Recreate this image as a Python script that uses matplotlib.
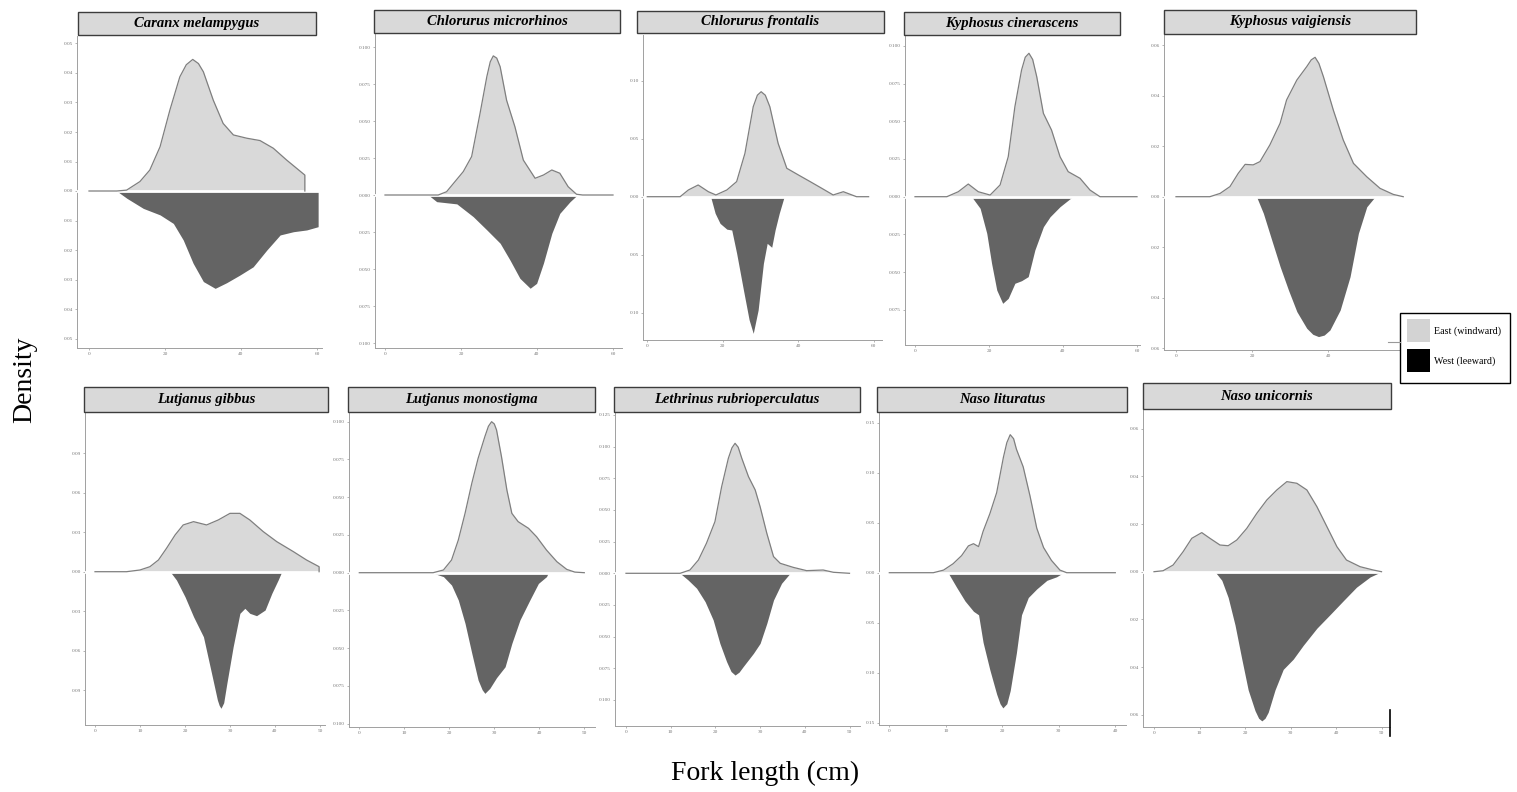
import matplotlib.pyplot as plt
import numpy as np
from matplotlib.patches import Rectangle
from matplotlib.lines import Line2D
from matplotlib.ticker import FixedLocator

W, H = 1517, 792
plt.rcParams['font.family'] = ['Liberation Serif', 'DejaVu Serif']

species = ["Caranx melampygus", "Chlorurus microrhinos", "Chlorurus frontalis",
           "Kyphosus cinerascens", "Kyphosus vaigiensis", "Lutjanus gibbus",
           "Lutjanus monostigma", "Lethrinus rubrioperculatus", "Naso lituratus",
           "Naso unicornis"]

# density curves: (fork length, density)
caranx_east = [(0, 0), (7.3, 0), (9.9, 0.0003), (13.4, 0.0032), (16, 0.0071), (18.7, 0.015),
               (21.3, 0.0275), (23.9, 0.0387), (25.6, 0.0428), (27.3, 0.0446), (28.8, 0.0432),
               (30.1, 0.0404), (32.7, 0.0308), (35.3, 0.0229), (38, 0.019), (41.5, 0.0179),
               (45, 0.0171), (48.5, 0.0145), (52, 0.0105), (56.8, 0.0054), (56.8, 0)]
caranx_west = [(7.3, 0), (10, 0.0025), (14.3, 0.0059), (18.7, 0.0081), (22.2, 0.011),
               (24.8, 0.0166), (27.4, 0.0245), (30.1, 0.0307), (33.2, 0.033), (36.2, 0.0311),
               (39.7, 0.0285), (43.2, 0.0257), (46.8, 0.02), (50.3, 0.0149), (53.8, 0.0138),
               (57.3, 0.0132), (60.3, 0.0121), (60.3, 0)]

microrhinos_east = [(0, 0), (14, 0), (16.2, 0.0022), (18.4, 0.009), (20.6, 0.0158), (22.8, 0.026),
                    (25, 0.055), (26.8, 0.08), (27.7, 0.09), (28.5, 0.094), (29.4, 0.0925),
                    (30.3, 0.0867), (32, 0.064), (34.2, 0.046), (36.4, 0.0236), (39.5, 0.0113),
                    (41.7, 0.0135), (43.9, 0.0169), (46, 0.0147), (48.2, 0.0056), (50.4, 0.0005),
                    (52, 0), (60, 0)]
microrhinos_west = [(11.4, 0), (13.6, 0.0045), (18.9, 0.006), (23.2, 0.0146), (26.8, 0.0236),
                    (30.3, 0.0326), (32.9, 0.044), (35.5, 0.0563), (38.2, 0.063), (39.9, 0.0597),
                    (41.7, 0.046), (43.9, 0.0259), (46, 0.0124), (48.7, 0.0045), (50.6, 0)]

frontalis_east = [(0, 0), (8.7, 0), (10.9, 0.0058), (13.5, 0.0101), (16.2, 0.0043), (18.2, 0.0015),
                  (21.1, 0.0058), (23.7, 0.013), (25.9, 0.0374), (28.1, 0.0776), (29.2, 0.0875),
                  (30.2, 0.0905), (31.3, 0.0875), (32.5, 0.0776), (34.7, 0.046), (37, 0.0245),
                  (40.1, 0.0187), (43.2, 0.013), (46.3, 0.0072), (49.3, 0.0015), (52, 0.0043),
                  (55.5, 0), (58.7, 0)]
frontalis_west = [(16.8, 0), (18, 0.0143), (19.3, 0.023), (21.1, 0.028), (22.4, 0.0287),
                  (23.7, 0.0488), (25.5, 0.0804), (27, 0.106), (28.1, 0.1178), (29.4, 0.0977),
                  (30.8, 0.0574), (31.8, 0.0402), (33, 0.0436), (33.9, 0.0287), (35, 0.0143),
                  (36.3, 0)]

cinerascens_east = [(0, 0), (8.6, 0), (11.7, 0.0033), (14.4, 0.0084), (17.1, 0.0033), (20.3, 0.0011),
                    (23, 0.0078), (25.2, 0.0265), (27, 0.0597), (28.8, 0.084), (29.8, 0.0925),
                    (30.8, 0.0951), (31.8, 0.091), (32.9, 0.0796), (34.7, 0.0553), (36.9, 0.0442),
                    (39.2, 0.0265), (41.4, 0.0166), (44.6, 0.0122), (47.3, 0.0044), (50, 0), (60, 0)]
cinerascens_west = [(15.3, 0), (17.6, 0.0077), (19.4, 0.0243), (20.7, 0.0442), (22.1, 0.0619),
                    (23.7, 0.0707), (25.2, 0.0674), (27, 0.0574), (28.8, 0.0557), (30.6, 0.053),
                    (32.4, 0.0353), (34.7, 0.0199), (36.5, 0.0133), (39.2, 0.0066), (42.6, 0)]

vaigiensis_east = [(0, 0), (8.9, 0), (11.6, 0.0013), (14.2, 0.004), (16.4, 0.0093), (18.2, 0.0128),
                   (20.3, 0.0126), (22.1, 0.0139), (24.7, 0.0205), (27.4, 0.0291), (29.1, 0.0383),
                   (31.8, 0.0462), (34.4, 0.0515), (35.6, 0.0542), (36.6, 0.0552), (37.6, 0.0528),
                   (38.8, 0.0475), (41.4, 0.0343), (44, 0.0225), (46.7, 0.0132), (50.2, 0.0079),
                   (53.7, 0.0033), (57.2, 0.0009), (59.8, 0)]
vaigiensis_west = [(21.2, 0), (23, 0.0066), (25.2, 0.0172), (27.4, 0.0277), (29.6, 0.037),
                   (31.8, 0.0455), (34.4, 0.0521), (36, 0.0545), (37.5, 0.0554), (39, 0.0548),
                   (40.5, 0.0528), (43.2, 0.0449), (45.8, 0.0317), (48, 0.0145), (50.2, 0.004),
                   (52.4, 0)]

gibbus_east = [(0, 0), (7, 0), (10, 0.0013), (12.2, 0.0038), (14.1, 0.0089), (15.9, 0.0178),
               (17.8, 0.0279), (19.6, 0.0355), (21.9, 0.038), (24.8, 0.0355), (27.4, 0.0393),
               (30, 0.0443), (32.2, 0.0443), (34.4, 0.0393), (37.4, 0.0304), (40.4, 0.0228),
               (44.1, 0.0152), (47, 0.0089), (49.8, 0.0038), (49.8, 0)]
gibbus_west = [(16.7, 0), (18.1, 0.0063), (20, 0.019), (21.9, 0.0342), (24.1, 0.0494),
               (25.9, 0.0772), (27.2, 0.0974), (27.6, 0.1015), (28, 0.1037), (28.6, 0.0995),
               (29.3, 0.0848), (30.7, 0.057), (32.2, 0.0316), (33.3, 0.0278), (34.4, 0.0316),
               (35.9, 0.0334), (37.8, 0.0291), (39.3, 0.0164), (40.7, 0.0063), (41.5, 0)]

monostigma_east = [(0, 0), (16.4, 0), (18.7, 0.0018), (20.5, 0.0084), (22, 0.0216), (23.5, 0.0393),
                   (25, 0.0592), (26.4, 0.0757), (27.9, 0.0901), (28.7, 0.097), (29.4, 0.1),
                   (30, 0.0985), (30.5, 0.0945), (31.6, 0.0768), (32.8, 0.0547), (33.9, 0.0393),
                   (35.3, 0.0338), (37.6, 0.0294), (39.4, 0.0238), (41.6, 0.015), (43.9, 0.0073),
                   (46.1, 0.0022), (47.9, 0.0004), (50, 0)]
monostigma_west = [(16.1, 0), (18.7, 0.0026), (20.5, 0.0082), (22, 0.0181), (23.5, 0.0336),
                   (25, 0.0534), (26.4, 0.0711), (27.3, 0.0775), (27.9, 0.0799), (29, 0.0766),
                   (30.5, 0.0695), (32.4, 0.0623), (33.9, 0.0468), (35.7, 0.0313), (37.9, 0.0181),
                   (39.8, 0.0071), (41.6, 0.0026), (42, 0)]

rubrio_east = [(0, 0), (12.1, 0), (14.3, 0.0026), (16.2, 0.0105), (18, 0.0237), (19.9, 0.0408),
               (21.4, 0.0684), (22.9, 0.0908), (23.7, 0.099), (24.4, 0.1026), (25.1, 0.0995),
               (25.9, 0.0908), (27.4, 0.0763), (28.9, 0.0658), (30, 0.0526), (31.5, 0.0316),
               (33, 0.0132), (34.5, 0.0079), (37.4, 0.0047), (40.4, 0.0021), (44.1, 0.0026),
               (46.4, 0.0008), (50, 0)]
rubrio_west = [(12.1, 0), (13.9, 0.0053), (15.8, 0.0118), (17.7, 0.0224), (19.5, 0.0368),
               (21, 0.0553), (22.5, 0.0697), (23.5, 0.0775), (24.4, 0.0803), (25.3, 0.078),
               (26.2, 0.0737), (28.5, 0.0632), (30, 0.0553), (31.5, 0.0395), (33, 0.0211),
               (34.8, 0.0079), (36.7, 0)]

lituratus_east = [(0, 0), (7.8, 0), (9.6, 0.0026), (11.3, 0.009), (12.8, 0.0171), (14, 0.0268),
                  (14.9, 0.029), (15.8, 0.0261), (16.6, 0.0413), (17.8, 0.059), (19, 0.08),
                  (20.2, 0.1155), (20.8, 0.13), (21.4, 0.138), (22, 0.134), (22.5, 0.1235),
                  (23.7, 0.1058), (24.9, 0.0768), (26.1, 0.0445), (27.3, 0.0252), (28.7, 0.0123),
                  (30.2, 0.0026), (31.4, 0), (40, 0)]
lituratus_west = [(10.4, 0), (11.9, 0.0145), (13.4, 0.0283), (14.9, 0.0386), (15.8, 0.0421),
                  (16.6, 0.0697), (17.8, 0.0972), (19, 0.1214), (19.6, 0.131), (20.1, 0.1352),
                  (20.8, 0.131), (21.4, 0.1179), (22.5, 0.08), (23.4, 0.0421), (24.6, 0.0248),
                  (26.1, 0.0162), (27.9, 0.0076), (29.6, 0.0041), (30.8, 0)]

unicornis_east = [(0, 0), (2, 0.0004), (4.2, 0.0028), (6.4, 0.0084), (8.3, 0.014), (10.5, 0.0164),
                  (12.3, 0.014), (14.5, 0.0112), (16.3, 0.0109), (18.2, 0.0133), (20.4, 0.0182),
                  (22.6, 0.0245), (24.8, 0.0301), (27, 0.0343), (29.2, 0.0378), (31.4, 0.0371),
                  (33.6, 0.0343), (35.8, 0.0273), (38, 0.0189), (40.2, 0.0105), (42.3, 0.0049),
                  (45.3, 0.0021), (48.2, 0.0007), (50, 0)]
unicornis_west = [(13.4, 0), (14.9, 0.0036), (16.3, 0.0108), (17.8, 0.0223), (19.3, 0.0367),
                  (20.7, 0.0496), (22.2, 0.0583), (23, 0.0615), (23.7, 0.0626), (24.4, 0.0615),
                  (25.1, 0.059), (26.6, 0.0496), (28.4, 0.041), (30.6, 0.0367), (32.8, 0.0309),
                  (35.8, 0.0237), (38.7, 0.018), (41.6, 0.0122), (44.5, 0.0065), (47.5, 0.0022),
                  (50, 0)]

east_curves = [caranx_east, microrhinos_east, frontalis_east, cinerascens_east, vaigiensis_east,
               gibbus_east, monostigma_east, rubrio_east, lituratus_east, unicornis_east]
west_curves = [caranx_west, microrhinos_west, frontalis_west, cinerascens_west, vaigiensis_west,
               gibbus_west, monostigma_west, rubrio_west, lituratus_west, unicornis_west]

x_ticks = [[0, 20, 40, 60]] * 5 + [[0, 10, 20, 30, 40, 50]] * 3 + [[0, 10, 20, 30, 40], [0, 10, 20, 30, 40, 50]]
y_steps = [0.01, 0.025, 0.05, 0.025, 0.02, 0.03, 0.025, 0.025, 0.05, 0.02]
y_tops = [0.05, 0.1, 0.1, 0.1, 0.06, 0.09, 0.1, 0.125, 0.15, 0.06]
y_decimals = [2, 3, 2, 3, 2, 2, 3, 3, 2, 2]

# layout in pixels: axes box (left, right, top, bottom), x zero px, px per cm, y zero px, px per density unit
layout = [
    ((77, 322, 36, 348), 89, 3.8, 191, 2950, (78, 316, 12, 35)),
    ((375, 622, 34, 348), 385, 3.8, 195, 1480, (374, 620, 10, 33)),
    ((643, 882, 35, 340), 647.3, 3.77, 196.7, 1160, (637, 884, 11, 33)),
    ((905, 1140, 36, 345), 915, 3.7, 196.7, 1508, (904, 1120, 12, 35)),
    ((1164, 1408, 35, 350), 1176, 3.8, 196.7, 2525, (1164, 1416, 10, 34)),
    ((85, 325, 412, 725), 95, 4.5, 571.7, 1317, (84, 328, 387, 412)),
    ((349, 595, 412, 727), 359.3, 4.5, 572.7, 1510, (348, 595, 387, 412)),
    ((615, 860, 412, 726), 626, 4.47, 573.3, 1267, (614, 860, 387, 412)),
    ((879, 1126, 412, 725), 889.3, 5.65, 572.7, 1000, (877, 1127, 387, 412)),
    ((1143, 1390, 409, 727), 1154, 4.55, 571.7, 2383, (1143, 1391, 383, 409)),
]

fig = plt.figure(figsize=(W / 100, H / 100), dpi=100)

for i, name in enumerate(species):
    (l, r, t, b), x0, xs, y0, ys, strip = layout[i]
    ax = fig.add_axes([l / W, 1 - b / H, (r - l) / W, (b - t) / H])
    east = np.array(east_curves[i])
    west = np.array(west_curves[i])
    ax.fill_between(west[:, 0], -west[:, 1], 0, color='#646464', lw=0, zorder=1)
    ax.fill_between(east[:, 0], east[:, 1], 0, color='#d9d9d9', lw=0, zorder=2)
    ax.axhline(0, color='white', lw=2.0, zorder=3)
    ax.plot(east[:, 0], east[:, 1], color='#7f7f7f', lw=0.9, zorder=4,
            solid_joinstyle='round')

    ax.set_xlim((l - x0) / xs, (r - x0) / xs)
    ax.set_ylim((y0 - b) / ys, (y0 - t) / ys)
    step, top, dec = y_steps[i], y_tops[i], y_decimals[i]
    yt = np.round(np.arange(-top, top + step / 2, step), 4)
    ax.yaxis.set_major_locator(FixedLocator(yt))
    ax.set_yticklabels([f"{abs(v):.{dec}f}" for v in yt])
    ax.set_xticks(x_ticks[i])
    ax.tick_params(labelsize=3.8, labelcolor='#777777', color='#999999',
                   length=1.5, width=0.5, pad=1.5)
    for s in ['top', 'right']:
        ax.spines[s].set_visible(False)
    for s in ['left', 'bottom']:
        ax.spines[s].set_color('#a0a0a0')
        ax.spines[s].set_linewidth(0.7)
    ax.set_facecolor('white')

    sx0, sx1, sy0, sy1 = strip
    fig.add_artist(Rectangle((sx0 / W, 1 - sy1 / H), (sx1 - sx0) / W, (sy1 - sy0) / H,
                             transform=fig.transFigure, facecolor='#d9d9d9',
                             edgecolor='#3c3c3c', lw=1.0))
    fig.text((sx0 + sx1) / 2 / W, 1 - (sy0 + sy1) / 2 / H, name, ha='center', va='center',
             fontsize=10.5, fontweight='bold', fontstyle='italic')

# legend
fig.add_artist(Line2D([1388 / W, 1400 / W], [1 - 342 / H, 1 - 342 / H], color='#999999', lw=0.8))
fig.add_artist(Rectangle((1400 / W, 1 - 383 / H), 110 / W, 70 / H, transform=fig.transFigure,
                         facecolor='white', edgecolor='black', lw=1.0))
fig.add_artist(Rectangle((1407 / W, 1 - 342 / H), 23 / W, 23 / H, transform=fig.transFigure,
                         facecolor='#d3d3d3', edgecolor='none'))
fig.add_artist(Rectangle((1407 / W, 1 - 372 / H), 23 / W, 23 / H, transform=fig.transFigure,
                         facecolor='black', edgecolor='none'))
fig.text(1434 / W, 1 - 331 / H, "East (windward)", ha='left', va='center', fontsize=7.2)
fig.text(1434 / W, 1 - 361 / H, "West (leeward)", ha='left', va='center', fontsize=7.2)

# stray frame edge at bottom right of the last panel
fig.add_artist(Line2D([1390 / W, 1390 / W], [1 - 710 / H, 1 - 736 / H], color='black', lw=1.2))

fig.text(25 / W, 1 - 380 / H, "Density", rotation=90, ha='center', va='center', fontsize=20)
fig.text(765 / W, 1 - 773 / H, "Fork length (cm)", ha='center', va='center', fontsize=20)

fig.savefig("out.png", dpi=100, facecolor='white')
